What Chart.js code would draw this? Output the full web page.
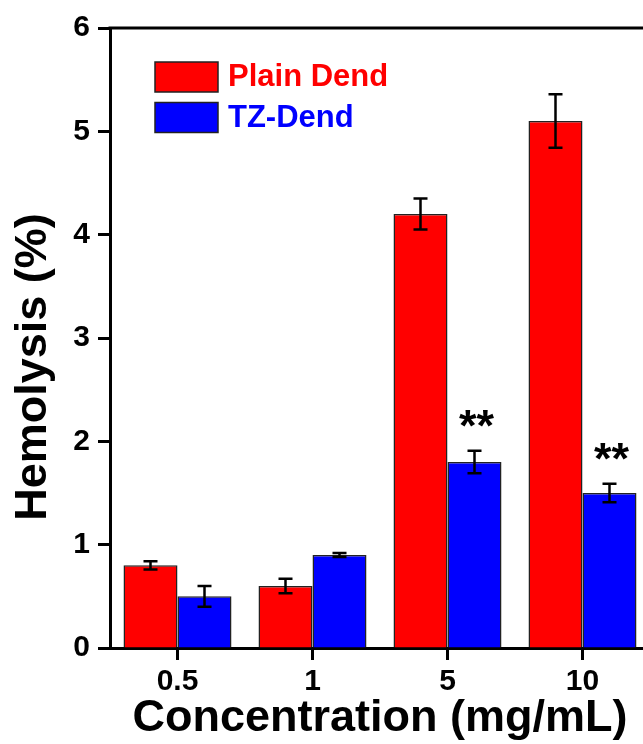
<!DOCTYPE html>
<html>
<head>
<meta charset="utf-8">
<script src="https://cdn.jsdelivr.net/npm/chart.js@4"></script>
<style>
  html, body { margin: 0; padding: 0; background: #fff; overflow: hidden; }
  #wrap { width: 660px; height: 744px; }
</style>
</head>
<body>
<div id="wrap"><canvas id="hemoChart"></canvas></div>
<script>
const concentrations = ["0.5", "1", "5", "10"];
const plainDend = [0.8, 0.6, 4.2, 5.1];
const plainDendErr = [0.04, 0.07, 0.15, 0.26];
const tzDend = [0.5, 0.9, 1.8, 1.5];
const tzDendErr = [0.1, 0.02, 0.11, 0.09];
const tzDendMarks = ["", "", "**", "**"];
const yMin = 0;
const yMax = 6;
const yStep = 1;

const FONT = "'Liberation Sans', Arial, sans-serif";

// error bars + significance stars
const errorBarPlugin = {
    id: "errorBars",
    afterDatasetsDraw(chart) {
        const ctx = chart.ctx;
        const yScale = chart.scales.y;
        ctx.save();
        ctx.strokeStyle = "#000";
        ctx.lineWidth = 2.5;
        chart.data.datasets.forEach((ds, i) => {
            const meta = chart.getDatasetMeta(i);
            meta.data.forEach((bar, j) => {
                const v = ds.data[j];
                const e = ds.errors[j];
                const top = yScale.getPixelForValue(v + e);
                const bot = yScale.getPixelForValue(v - e);
                ctx.beginPath();
                ctx.moveTo(bar.x, top);
                ctx.lineTo(bar.x, bot);
                ctx.moveTo(bar.x - 7, top);
                ctx.lineTo(bar.x + 7, top);
                ctx.moveTo(bar.x - 7, bot);
                ctx.lineTo(bar.x + 7, bot);
                ctx.stroke();
                if (ds.marks && ds.marks[j]) {
                    ctx.fillStyle = "#000";
                    ctx.font = "bold 45px " + FONT;
                    ctx.textAlign = "center";
                    ctx.textBaseline = "alphabetic";
                    ctx.fillText(ds.marks[j], bar.x + 2, top - 10);
                }
            });
        });
        ctx.restore();
    }
};

// top frame line, inside legend, y axis title
const framePlugin = {
    id: "frame",
    afterDraw(chart) {
        const ctx = chart.ctx;
        const a = chart.chartArea;
        ctx.save();
        ctx.strokeStyle = "#000";
        ctx.lineWidth = 3;
        ctx.beginPath();
        ctx.moveTo(a.left - 1.5, a.top);
        ctx.lineTo(a.right, a.top);
        ctx.lineTo(a.right, a.bottom);
        ctx.stroke();

        // legend
        chart.data.datasets.forEach((ds, i) => {
            const bx = a.left + 45;
            const by = a.top + 34 + i * 40.5;
            ctx.fillStyle = ds.backgroundColor;
            ctx.fillRect(bx, by, 63, 30);
            ctx.lineWidth = 1.5;
            ctx.strokeStyle = "#222";
            ctx.strokeRect(bx, by, 63, 30);
            ctx.fillStyle = ds.backgroundColor;
            ctx.font = "bold 31px " + FONT;
            ctx.textAlign = "left";
            ctx.textBaseline = "alphabetic";
            ctx.fillText(ds.label, bx + 73, by + 24);
        });

        // y title
        ctx.translate(34, 367);
        ctx.rotate(-Math.PI / 2);
        ctx.fillStyle = "#000";
        ctx.font = "bold 45px " + FONT;
        ctx.textAlign = "center";
        ctx.textBaseline = "middle";
        ctx.fillText("Hemolysis (%)", 0, 0);
        ctx.restore();
    }
};

new Chart(document.getElementById("hemoChart"), {
    type: "bar",
    data: {
        labels: concentrations,
        datasets: [{
            label: "Plain Dend",
            data: plainDend,
            errors: plainDendErr,
            backgroundColor: "#ff0000",
            borderColor: "#222",
            borderWidth: 1.5
        }, {
            label: "TZ-Dend",
            data: tzDend,
            errors: tzDendErr,
            marks: tzDendMarks,
            backgroundColor: "#0000ff",
            borderColor: "#222",
            borderWidth: 1.5
        }]
    },
    options: {
        responsive: true,
        maintainAspectRatio: false,
        animation: false,
        layout: { padding: { top: 28, right: 10, bottom: 0, left: 0 } },
        datasets: { bar: { categoryPercentage: 0.8, barPercentage: 1.0 } },
        plugins: {
            legend: { display: false },
            tooltip: { enabled: false }
        },
        scales: {
            x: {
                afterFit(scale) { scale.height = 96; },
                grid: {
                    offset: false,
                    drawOnChartArea: false,
                    drawTicks: true,
                    tickLength: 12,
                    tickWidth: 3,
                    tickColor: "#000"
                },
                border: { display: true, color: "#000", width: 3 },
                ticks: {
                    color: "#000",
                    padding: 4,
                    font: { family: FONT, size: 30, weight: "bold" }
                },
                title: {
                    display: true,
                    text: "Concentration (mg/mL)",
                    color: "#000",
                    padding: { top: 0, bottom: 3 },
                    font: { family: FONT, size: 45, weight: "bold", lineHeight: 1 }
                }
            },
            y: {
                min: yMin,
                max: yMax,
                afterFit(scale) { scale.width = 110; },
                grid: {
                    drawOnChartArea: false,
                    drawTicks: true,
                    tickLength: 12,
                    tickWidth: 3,
                    tickColor: "#000"
                },
                border: { display: true, color: "#000", width: 3 },
                ticks: {
                    stepSize: yStep,
                    color: "#000",
                    padding: 8,
                    font: { family: FONT, size: 30, weight: "bold" }
                }
            }
        }
    },
    plugins: [errorBarPlugin, framePlugin]
});
</script>
</body>
</html>
